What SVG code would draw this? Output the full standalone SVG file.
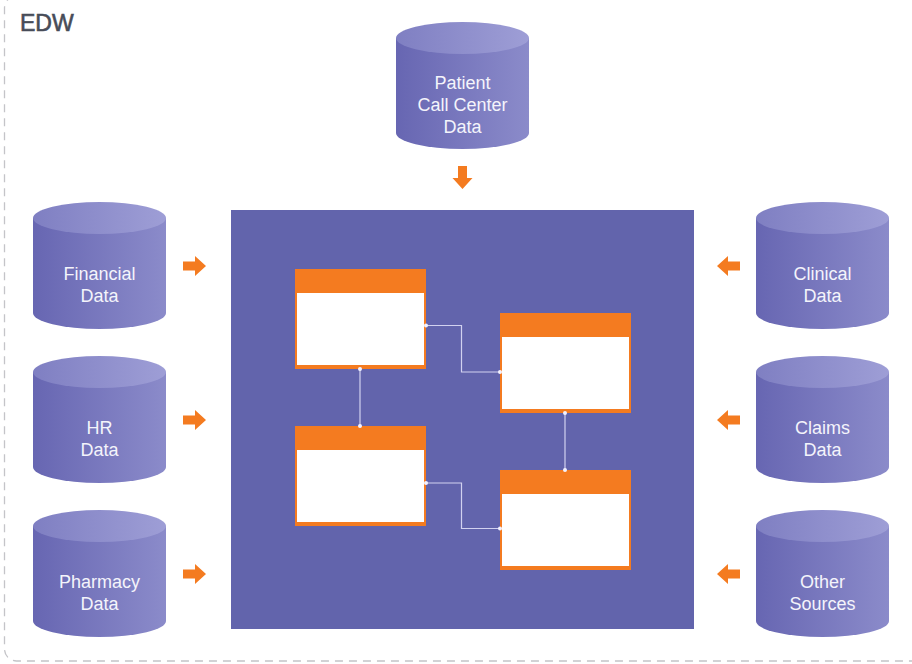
<svg xmlns="http://www.w3.org/2000/svg" width="912" height="664" viewBox="0 0 912 664">
<defs>
<linearGradient id="body" x1="0" y1="0" x2="1" y2="0">
<stop offset="0" stop-color="#6766b2"/>
<stop offset="1" stop-color="#8b8bca"/>
</linearGradient>
<linearGradient id="top" x1="0" y1="0" x2="1" y2="0">
<stop offset="0" stop-color="#7f7fc2"/>
<stop offset="1" stop-color="#9e9ed6"/>
</linearGradient>
<symbol id="cyl" overflow="visible">
<path d="M0,16 L0,111 A66.5,16 0 0 0 133,111 L133,16 Z" fill="url(#body)"/>
<ellipse cx="66.5" cy="16" rx="66.5" ry="16" fill="url(#top)"/>
</symbol>
<path id="arrR" d="M0,-4.5 L12,-4.5 L12,-10 L23,0 L12,10 L12,4.5 L0,4.5 Z"/>
</defs>
<style>
.lbl{font-family:"Liberation Sans",Arial,sans-serif;font-size:18px;fill:#f4f4fb;text-anchor:middle}
.arrow{fill:#f47b20}
.tbl{fill:#f47b20}
.tin{fill:#ffffff}
.conn{fill:none;stroke:#d2d2f0;stroke-width:1.2}
.dot{fill:#f2f2ff}
</style>
<rect width="912" height="664" fill="#ffffff"/>
<rect x="4.5" y="-4" width="940" height="665" rx="12" fill="none" stroke="#c4c4c8" stroke-width="1.3" stroke-dasharray="8,6"/>
<text x="20" y="31" font-family="Liberation Sans,Arial,sans-serif" font-size="23" fill="#474c58" stroke="#474c58" stroke-width="0.6">EDW</text>

<g id="warehouse">
<rect x="231" y="210" width="463" height="419" fill="#6264ac"/>
</g>

<g id="table1"><rect class="tbl" x="295" y="269" width="131" height="100"/><rect class="tin" x="297" y="293" width="127" height="72"/></g>
<g id="table2"><rect class="tbl" x="500" y="313" width="131" height="100"/><rect class="tin" x="502" y="337" width="127" height="72"/></g>
<g id="table3"><rect class="tbl" x="295" y="426" width="131" height="100"/><rect class="tin" x="297" y="450" width="127" height="72"/></g>
<g id="table4"><rect class="tbl" x="500" y="470" width="131" height="100"/><rect class="tin" x="502" y="494" width="127" height="72"/></g>

<g id="connectors">
<path class="conn" d="M426,325.5 H461.5 V372 H500"/>
<path class="conn" d="M360,369 V426"/>
<path class="conn" d="M565,413 V470"/>
<path class="conn" d="M426,483 H461.5 V528.5 H500"/>
<circle class="dot" cx="426" cy="325.5" r="2"/><circle class="dot" cx="500" cy="372" r="2"/>
<circle class="dot" cx="360" cy="369" r="2"/><circle class="dot" cx="360" cy="426" r="2"/>
<circle class="dot" cx="565" cy="413" r="2"/><circle class="dot" cx="565" cy="470" r="2"/>
<circle class="dot" cx="426" cy="483" r="2"/><circle class="dot" cx="500" cy="528.5" r="2"/>
<use href="#arrR" class="arrow" transform="translate(183,266)"/>
<use href="#arrR" class="arrow" transform="translate(183,420)"/>
<use href="#arrR" class="arrow" transform="translate(183,574)"/>
<use href="#arrR" class="arrow" transform="translate(740,266) scale(-1,1)"/>
<use href="#arrR" class="arrow" transform="translate(740,420) scale(-1,1)"/>
<use href="#arrR" class="arrow" transform="translate(740,574) scale(-1,1)"/>
<use href="#arrR" class="arrow" transform="translate(462.5,166) rotate(90)"/>
</g>

<g id="patient"><use href="#cyl" x="396" y="22"/><text class="lbl" x="462.5" y="89">Patient</text><text class="lbl" x="462.5" y="111">Call Center</text><text class="lbl" x="462.5" y="133">Data</text></g>
<g id="financial"><use href="#cyl" x="33" y="202"/><text class="lbl" x="99.5" y="280">Financial</text><text class="lbl" x="99.5" y="302">Data</text></g>
<g id="hr"><use href="#cyl" x="33" y="356"/><text class="lbl" x="99.5" y="434">HR</text><text class="lbl" x="99.5" y="456">Data</text></g>
<g id="pharmacy"><use href="#cyl" x="33" y="510"/><text class="lbl" x="99.5" y="588">Pharmacy</text><text class="lbl" x="99.5" y="610">Data</text></g>
<g id="clinical"><use href="#cyl" x="756" y="202"/><text class="lbl" x="822.5" y="280">Clinical</text><text class="lbl" x="822.5" y="302">Data</text></g>
<g id="claims"><use href="#cyl" x="756" y="356"/><text class="lbl" x="822.5" y="434">Claims</text><text class="lbl" x="822.5" y="456">Data</text></g>
<g id="other"><use href="#cyl" x="756" y="510"/><text class="lbl" x="822.5" y="588">Other</text><text class="lbl" x="822.5" y="610">Sources</text></g>
</svg>
